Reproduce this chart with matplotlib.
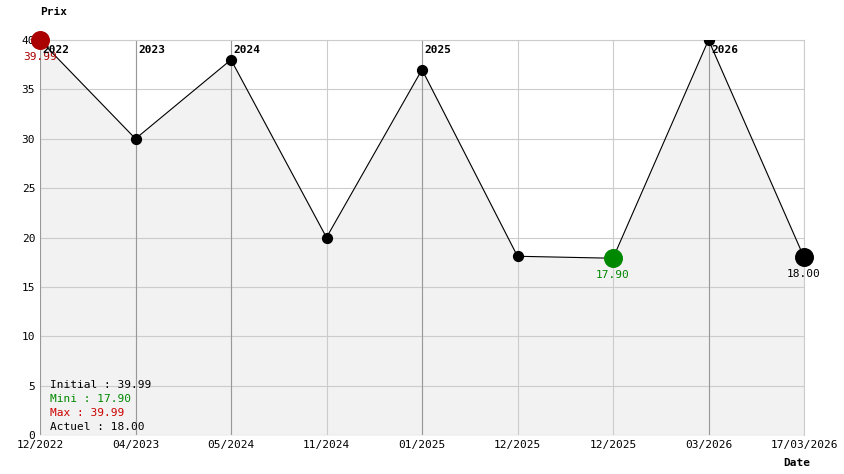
import matplotlib
matplotlib.use("Agg")
import matplotlib.pyplot as plt

dates = ["12/2022","04/2023","05/2024","11/2024","01/2025","12/2025","12/2025","03/2026","17/03/2026"]
prices = [39.99, 30.0, 38.0, 20.0, 37.0, 18.1, 17.9, 40.0, 18.0]
year_idx = [0, 1, 2, 4, 7]
year_labels = ["2022", "2023", "2024", "2025", "2026"]

plt.rcParams['font.family'] = ['DejaVu Sans Mono']
fig = plt.figure(figsize=(8.44, 4.74), dpi=100)
ax = fig.add_axes([40/844, 39/474, 764/844, 395/474])
x = list(range(len(prices)))
ax.fill_between(x, prices, 0, color='#f2f2f2', zorder=0)
ax.plot(x, prices, color='black', lw=0.8, zorder=2)
ax.scatter(x[1:-1], prices[1:-1], s=50, color='black', zorder=3)
ax.scatter([x[6]], [prices[6]], s=160, color='#008800', zorder=4)
ax.scatter([x[0]], [prices[0]], s=160, color='#aa0000', zorder=4, clip_on=False)
ax.scatter([x[-1]], [prices[-1]], s=160, color='black', zorder=4, clip_on=False)
ax.text(x[0], prices[0]-1.2, "39.99", color='#aa0000', fontsize=8, ha='center', va='top')
ax.text(x[6], prices[6]-1.2, "17.90", color='#008800', fontsize=8, ha='center', va='top')
ax.text(x[-1], prices[-1]-1.2, "18.00", color='black', fontsize=8, ha='center', va='top')
for i, lab in zip(year_idx, year_labels):
    ax.axvline(i, color='#999999', lw=0.8, zorder=1)
    ax.text(i+0.03, 39.5, lab, fontsize=8, fontweight='bold', va='top', ha='left')
ax.set_xlim(0, 8)
ax.set_ylim(0, 40)
ax.set_xticks(x)
ax.set_xticklabels(dates, fontsize=8)
ax.set_yticks(range(0, 41, 5))
ax.tick_params(labelsize=8, length=0)
ax.grid(True, color='#cccccc', lw=0.8, zorder=1)
ax.set_axisbelow(True)
for s in ax.spines.values():
    s.set_visible(False)
ax.spines['right'].set_visible(True); ax.spines['right'].set_color('#cccccc')
ax.spines['top'].set_visible(True); ax.spines['top'].set_color('#cccccc')
fig.text(40/844, 1-12/474, "Prix", fontsize=8, fontweight='bold', va='center')
fig.text(783/844, 1-463/474, "Date", fontsize=8, fontweight='bold', va='center')
leg = [("Initial : 39.99", 'black'), ("Mini : 17.90", '#008800'), ("Max : 39.99", '#cc0000'), ("Actuel : 18.00", 'black')]
for k, (t, c) in enumerate(leg):
    fig.text(50/844, 1-(385+k*14)/474, t, color=c, fontsize=8, va='center')
fig.savefig("out.png", dpi=100)
